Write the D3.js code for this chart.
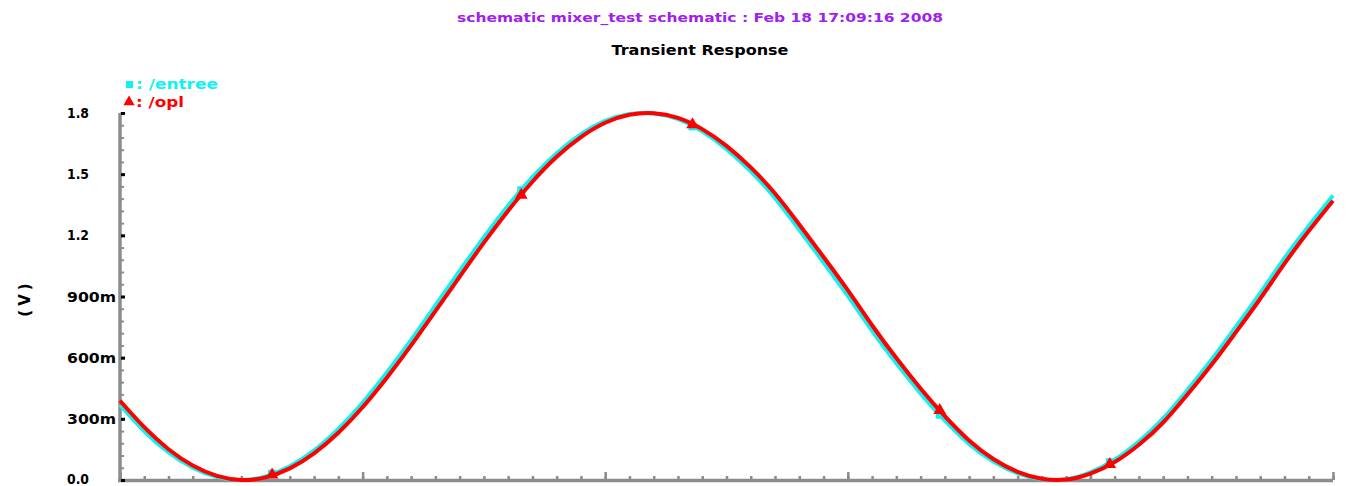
<!DOCTYPE html>
<html>
<head>
<meta charset="utf-8">
<script src="https://cdn.jsdelivr.net/npm/d3@7"></script>
<style>
  body { margin: 0; background: #fff; }
  text { font-family: "DejaVu Sans", sans-serif; font-weight: bold; }
</style>
</head>
<body>
<svg id="graph" width="1366" height="486"></svg>
<script>
// sample times (one per minor x tick), no labels on the time axis
const times = d3.range(51).map(i => i / 10);

// /entree (cyan) and /opl (red) in volts
const entree = [0.368, 0.239, 0.135, 0.060, 0.014, 0.000, 0.018, 0.067, 0.145, 0.251,
  0.379, 0.527, 0.687, 0.856, 1.025, 1.191, 1.346, 1.485, 1.603, 1.696,
  1.761, 1.795, 1.798, 1.770, 1.710, 1.623, 1.514, 1.382, 1.227, 1.067,
  0.903, 0.732, 0.572, 0.425, 0.292, 0.177, 0.090, 0.032, 0.003, 0.004,
  0.038, 0.100, 0.189, 0.302, 0.442, 0.591, 0.752, 0.917, 1.088, 1.246, 1.395];
const opl = [0.389, 0.259, 0.151, 0.071, 0.020, 0.000, 0.013, 0.057, 0.131, 0.232,
  0.357, 0.502, 0.660, 0.828, 0.997, 1.164, 1.321, 1.463, 1.585, 1.682,
  1.752, 1.791, 1.799, 1.776, 1.721, 1.639, 1.533, 1.405, 1.253, 1.094,
  0.931, 0.759, 0.598, 0.449, 0.313, 0.194, 0.103, 0.040, 0.006, 0.002,
  0.031, 0.088, 0.173, 0.282, 0.419, 0.566, 0.725, 0.889, 1.061, 1.221, 1.370];

// where the symbols sit along the traces
const markerTimes = [0.627, 1.654, 2.36, 3.379, 4.08];

const yTicks = [0, 0.3, 0.6, 0.9, 1.2, 1.5, 1.8];
const yTickLabels = ["0.0", "300m", "600m", "900m", "1.2", "1.5", "1.8"];
const xMajor = [0, 1, 2, 3, 4, 5];

const titleText = "schematic mixer_test schematic : Feb 18 17:09:16 2008";
const subTitle = "Transient Response";
const legendNames = ["/entree", "/opl"];

const CYAN = "#10f2f2", RED = "#ff0000", GREY = "#8c8c8c";

const svg = d3.select("#graph");
const x = d3.scaleLinear().domain([0, 5]).range([120, 1333]);
const y = d3.scaleLinear().domain([0, 1.8]).range([480, 113]);

// titles
svg.append("text").attr("x", 700).attr("y", 22).attr("text-anchor", "middle")
  .attr("font-size", 13).attr("fill", "#a020f0")
  .attr("textLength", 486).attr("lengthAdjust", "spacingAndGlyphs").text(titleText);
svg.append("text").attr("x", 700).attr("y", 55).attr("text-anchor", "middle")
  .attr("font-size", 14).attr("fill", "#000")
  .attr("textLength", 177).attr("lengthAdjust", "spacingAndGlyphs").text(subTitle);

// axis frame: minor and major ticks
const minorX = d3.range(0, 51).map(i => i / 10);
svg.append("g").attr("transform", "translate(0,480)")
  .call(d3.axisBottom(x).tickValues(minorX).tickSize(-4).tickFormat(""))
  .call(g => g.select(".domain").remove())
  .selectAll("line").attr("stroke", GREY).attr("stroke-width", 2.5);
svg.append("g").attr("transform", "translate(0,480)")
  .call(d3.axisBottom(x).tickValues(xMajor).tickSize(-8).tickFormat(""))
  .call(g => g.select(".domain").remove())
  .selectAll("line").attr("stroke", GREY).attr("stroke-width", 2.5);

const minorY = d3.range(0, 31).map(i => i * 0.06);
svg.append("g").attr("transform", "translate(120,0)")
  .call(d3.axisRight(y).tickValues(minorY).tickSize(4).tickFormat(""))
  .call(g => g.select(".domain").remove())
  .selectAll("line").attr("stroke", GREY).attr("stroke-width", 2);

svg.append("line").attr("x1", 120).attr("x2", 120).attr("y1", y(1.8)).attr("y2", 481.5)
  .attr("stroke", GREY).attr("stroke-width", 3.5);
svg.append("line").attr("x1", 118).attr("x2", x(5)).attr("y1", 480.5).attr("y2", 480.5)
  .attr("stroke", GREY).attr("stroke-width", 3.5);

// y major ticks: small black squares and labels
svg.selectAll(".ymaj").data(yTicks).join("rect")
  .attr("x", 121).attr("y", d => y(d) - 1).attr("width", 4).attr("height", 3).attr("fill", "#000");
svg.selectAll(".ylab").data(yTicks).join("text")
  .attr("x", 67).attr("y", d => Math.min(y(d) + 5, 484))
  .attr("font-size", 14).attr("fill", "#000")
  .attr("textLength", (d, i) => yTickLabels[i].endsWith("m") ? 49 : 22)
  .attr("lengthAdjust", "spacingAndGlyphs")
  .text((d, i) => yTickLabels[i]);

svg.append("text").attr("transform", "translate(30,298) rotate(-90)")
  .attr("text-anchor", "middle").attr("font-size", 15).attr("fill", "#000")
  .attr("letter-spacing", 4).text("(V)");

// traces
const line = d3.line().x((d, i) => x(times[i])).y(d => y(d)).curve(d3.curveNatural);
svg.append("path").datum(entree).attr("d", line)
  .attr("fill", "none").attr("stroke", CYAN).attr("stroke-width", 4);

function valueAt(series, t) {
  const i = Math.min(d3.bisectRight(times, t), times.length - 1);
  const t0 = times[i - 1], t1 = times[i];
  return series[i - 1] + (series[i] - series[i - 1]) * (t - t0) / (t1 - t0);
}

svg.selectAll(".csq").data(markerTimes).join("rect")
  .attr("x", d => x(d) - 4).attr("y", d => y(valueAt(entree, d)) - 4)
  .attr("width", 8).attr("height", 8).attr("fill", CYAN);

svg.append("path").datum(opl).attr("d", line)
  .attr("fill", "none").attr("stroke", RED).attr("stroke-width", 4);

const tri = d3.symbol().type(d3.symbolTriangle).size(70);
svg.selectAll(".rtri").data(markerTimes).join("path")
  .attr("d", tri)
  .attr("transform", d => `translate(${x(d)},${y(valueAt(opl, d))})`)
  .attr("fill", RED);

// legend
svg.append("rect").attr("x", 126).attr("y", 81).attr("width", 7).attr("height", 7).attr("fill", CYAN);
svg.append("text").attr("x", 136).attr("y", 89).attr("font-size", 14).attr("fill", CYAN)
  .attr("textLength", 82).attr("lengthAdjust", "spacingAndGlyphs").text(": " + legendNames[0]);
svg.append("path").attr("d", d3.symbol().type(d3.symbolTriangle).size(55))
  .attr("transform", "translate(129,102)").attr("fill", RED);
svg.append("text").attr("x", 136).attr("y", 107).attr("font-size", 14).attr("fill", RED)
  .attr("textLength", 48).attr("lengthAdjust", "spacingAndGlyphs").text(": " + legendNames[1]);
</script>
</body>
</html>
